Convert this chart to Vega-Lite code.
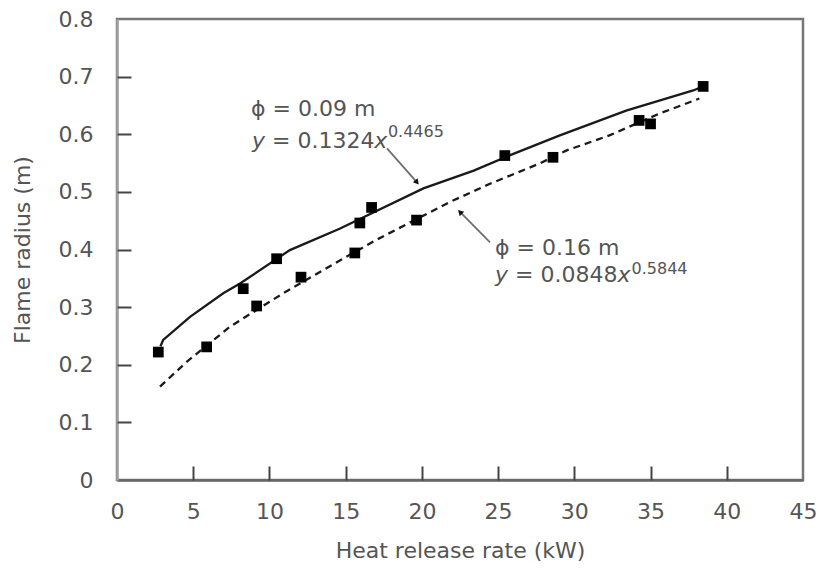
{
  "$schema": "https://vega.github.io/schema/vega-lite/v6.json",
  "width": 686,
  "height": 461,
  "autosize": {"type": "none"},
  "padding": {"left": 117, "top": 19, "right": 24, "bottom": 89},
  "background": "white",
  "config": {
    "view": {"stroke": "#777777", "strokeWidth": 2.5},
    "axis": {
      "grid": false,
      "labelFont": "DejaVu Sans",
      "labelFontSize": 22,
      "labelColor": "#555555",
      "titleFont": "DejaVu Sans",
      "titleFontSize": 22,
      "titleFontWeight": "normal",
      "titleColor": "#555555",
      "domainWidth": 2.5
    }
  },
  "datasets": {
    "markers": [
      {"hrr": 2.71, "r": 0.222},
      {"hrr": 8.28, "r": 0.332},
      {"hrr": 10.47, "r": 0.384},
      {"hrr": 15.93, "r": 0.446},
      {"hrr": 16.7, "r": 0.473},
      {"hrr": 25.44, "r": 0.563},
      {"hrr": 38.45, "r": 0.683},
      {"hrr": 5.88, "r": 0.231},
      {"hrr": 9.16, "r": 0.302},
      {"hrr": 12.07, "r": 0.352},
      {"hrr": 15.6, "r": 0.394},
      {"hrr": 19.65, "r": 0.451},
      {"hrr": 28.6, "r": 0.56},
      {"hrr": 34.25, "r": 0.624},
      {"hrr": 35.0, "r": 0.618}
    ],
    "curves": [
      {"series": "0.09", "hrr": 2.85, "r": 0.232},
      {"series": "0.09", "hrr": 3.03, "r": 0.243},
      {"series": "0.09", "hrr": 4.79, "r": 0.283},
      {"series": "0.09", "hrr": 6.97, "r": 0.324},
      {"series": "0.09", "hrr": 8.07, "r": 0.341},
      {"series": "0.09", "hrr": 11.34, "r": 0.399},
      {"series": "0.09", "hrr": 14.6, "r": 0.436},
      {"series": "0.09", "hrr": 20.1, "r": 0.506},
      {"series": "0.09", "hrr": 23.4, "r": 0.537},
      {"series": "0.09", "hrr": 26.0, "r": 0.566},
      {"series": "0.09", "hrr": 29.05, "r": 0.598},
      {"series": "0.09", "hrr": 33.4, "r": 0.641},
      {"series": "0.09", "hrr": 37.8, "r": 0.676},
      {"series": "0.09", "hrr": 38.45, "r": 0.683},
      {"series": "0.16", "hrr": 2.82, "r": 0.162},
      {"series": "0.16", "hrr": 4.57, "r": 0.205},
      {"series": "0.16", "hrr": 7.41, "r": 0.266},
      {"series": "0.16", "hrr": 10.9, "r": 0.324},
      {"series": "0.16", "hrr": 14.62, "r": 0.381},
      {"series": "0.16", "hrr": 17.03, "r": 0.417},
      {"series": "0.16", "hrr": 21.8, "r": 0.482},
      {"series": "0.16", "hrr": 24.46, "r": 0.514},
      {"series": "0.16", "hrr": 27.7, "r": 0.549},
      {"series": "0.16", "hrr": 29.5, "r": 0.572},
      {"series": "0.16", "hrr": 32.3, "r": 0.598},
      {"series": "0.16", "hrr": 35.6, "r": 0.636},
      {"series": "0.16", "hrr": 38.2, "r": 0.662}
    ],
    "arrows": [
      {"x1": 17.71, "y1": 0.5755, "x2": 19.68, "y2": 0.5166},
      {"x1": 24.47, "y1": 0.4125, "x2": 22.5, "y2": 0.4651}
    ],
    "head1": [{"x": 19.68, "y": 0.5166}],
    "head2": [{"x": 22.5, "y": 0.4651}],
    "phi": [
      {"x": 8.79, "y": 0.643, "t": "ϕ = 0.09 m"},
      {"x": 24.8, "y": 0.403, "t": "ϕ = 0.16 m"}
    ],
    "eqMain": [
      {"x": 10.17, "y": 0.5766, "t": "= 0.1324"},
      {"x": 26.11, "y": 0.3437, "t": "= 0.0848"}
    ],
    "eqItalic": [
      {"x": 8.86, "y": 0.5766, "t": "y"},
      {"x": 16.88, "y": 0.5766, "t": "x"},
      {"x": 24.8, "y": 0.3437, "t": "y"},
      {"x": 32.83, "y": 0.3437, "t": "x"}
    ],
    "eqSup": [
      {"x": 17.77, "y": 0.595, "t": "0.4465"},
      {"x": 33.75, "y": 0.357, "t": "0.5844"}
    ]
  },
  "resolve": {"axis": {"x": "independent", "y": "independent"}},
  "layer": [
    {
      "layer": [
        {
          "data": {"name": "curves"},
          "transform": [{"filter": "datum.series === '0.09'"}],
          "mark": {"type": "line", "color": "#1a1a1a", "strokeWidth": 2.3},
          "encoding": {
            "x": {
              "field": "hrr", "type": "quantitative",
              "scale": {"domain": [0, 45], "nice": false, "zero": true},
              "axis": {
                "orient": "bottom",
                "title": "Heat release rate (kW)",
                "values": [0, 5, 10, 15, 20, 25, 30, 35, 40, 45],
                "ticks": false,
                "labelPadding": 21,
                "titlePadding": 18,
                "domainColor": "#666666",
                "labelFlush": false
              }
            },
            "y": {
              "field": "r", "type": "quantitative",
              "scale": {"domain": [0, 0.8], "nice": false},
              "axis": {
                "orient": "left",
                "title": "Flame radius (m)",
                "values": [0, 0.1, 0.2, 0.3, 0.4, 0.5, 0.6, 0.7, 0.8],
                "format": ".1~f",
                "ticks": false,
                "labelPadding": 24,
                "titlePadding": 24,
                "domainColor": "#a0a0a0",
                "labelFlush": false
              }
            }
          }
        },
        {
          "data": {"name": "curves"},
          "transform": [{"filter": "datum.series === '0.16'"}],
          "mark": {"type": "line", "color": "#1a1a1a", "strokeWidth": 2.3, "strokeDash": [7, 5]},
          "encoding": {
            "x": {"field": "hrr", "type": "quantitative"},
            "y": {"field": "r", "type": "quantitative"}
          }
        },
        {
          "data": {"name": "arrows"},
          "mark": {"type": "rule", "color": "#6e6e6e", "strokeWidth": 1.8},
          "encoding": {
            "x": {"field": "x1", "type": "quantitative"},
            "y": {"field": "y1", "type": "quantitative"},
            "x2": {"field": "x2"},
            "y2": {"field": "y2"}
          }
        },
        {
          "data": {"name": "head1"},
          "mark": {"type": "point", "shape": "triangle-up", "filled": true, "color": "#111111", "size": 40, "angle": 139, "opacity": 1},
          "encoding": {
            "x": {"field": "x", "type": "quantitative"},
            "y": {"field": "y", "type": "quantitative"}
          }
        },
        {
          "data": {"name": "head2"},
          "mark": {"type": "point", "shape": "triangle-up", "filled": true, "color": "#111111", "size": 40, "angle": 315, "opacity": 1},
          "encoding": {
            "x": {"field": "x", "type": "quantitative"},
            "y": {"field": "y", "type": "quantitative"}
          }
        },
        {
          "data": {"name": "phi"},
          "mark": {"type": "text", "font": "DejaVu Sans", "fontSize": 22, "color": "#555555", "align": "left", "baseline": "middle"},
          "encoding": {
            "x": {"field": "x", "type": "quantitative"},
            "y": {"field": "y", "type": "quantitative"},
            "text": {"field": "t"}
          }
        },
        {
          "data": {"name": "eqMain"},
          "mark": {"type": "text", "font": "DejaVu Sans", "fontSize": 22, "color": "#555555", "align": "left", "baseline": "alphabetic"},
          "encoding": {
            "x": {"field": "x", "type": "quantitative"},
            "y": {"field": "y", "type": "quantitative"},
            "text": {"field": "t"}
          }
        },
        {
          "data": {"name": "eqItalic"},
          "mark": {"type": "text", "font": "DejaVu Sans", "fontSize": 22, "fontStyle": "italic", "color": "#555555", "align": "left", "baseline": "alphabetic"},
          "encoding": {
            "x": {"field": "x", "type": "quantitative"},
            "y": {"field": "y", "type": "quantitative"},
            "text": {"field": "t"}
          }
        },
        {
          "data": {"name": "eqSup"},
          "mark": {"type": "text", "font": "DejaVu Sans", "fontSize": 16, "color": "#555555", "align": "left", "baseline": "alphabetic"},
          "encoding": {
            "x": {"field": "x", "type": "quantitative"},
            "y": {"field": "y", "type": "quantitative"},
            "text": {"field": "t"}
          }
        }
      ]
    },
    {
      "data": {"name": "markers"},
      "mark": {"type": "point", "shape": "square", "filled": true, "color": "#000000", "size": 115, "opacity": 1},
      "encoding": {
        "x": {
          "field": "hrr", "type": "quantitative",
          "axis": {
            "orient": "bottom",
            "offset": -14,
            "values": [5, 10, 15, 20, 25, 30, 35, 40],
            "domain": false,
            "labels": false,
            "title": null,
            "ticks": true,
            "tickSize": 14,
            "tickColor": "#444444",
            "tickWidth": 2
          }
        },
        "y": {
          "field": "r", "type": "quantitative",
          "axis": {
            "orient": "left",
            "offset": -14,
            "values": [0.1, 0.2, 0.3, 0.4, 0.5, 0.6, 0.7],
            "domain": false,
            "labels": false,
            "title": null,
            "ticks": true,
            "tickSize": 14,
            "tickColor": "#444444",
            "tickWidth": 2
          }
        }
      }
    }
  ]
}
